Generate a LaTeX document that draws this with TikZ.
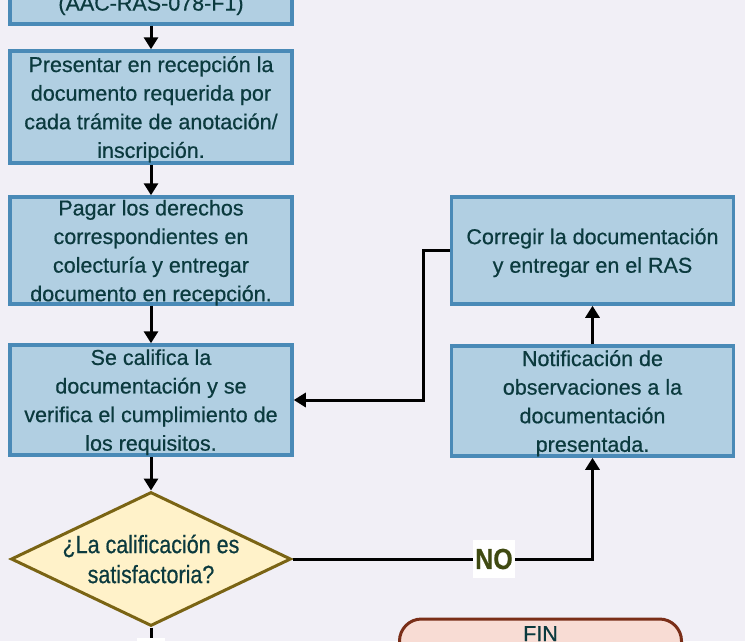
\documentclass[tikz,border=0pt]{standalone}
\usepackage{fontspec}
\setmainfont{Liberation Sans}
\newfontfamily\boxfont[FakeBold=0.6]{Liberation Sans}
\newfontfamily\decfont[FakeStretch=0.86,FakeBold=0.5]{Liberation Sans}
\usetikzlibrary{shapes.geometric,arrows.meta}
\definecolor{bgc}{HTML}{F1EFF6}
\definecolor{boxfill}{HTML}{B1CFE2}
\definecolor{boxline}{HTML}{4A8AB7}
\definecolor{txt}{HTML}{0B3A3E}
\definecolor{decfill}{HTML}{FFF2C9}
\definecolor{decline}{HTML}{7A6414}
\definecolor{finfill}{HTML}{F8DCD4}
\definecolor{finline}{HTML}{7A2E18}
\definecolor{nocol}{HTML}{3F4A12}
\tikzset{
  boxtext/.style={text=txt, font=\boxfont\fontsize{21.5}{28.6}\selectfont},
  procbox/.style={draw=boxline, fill=boxfill, line width=3.5pt, minimum width=282pt,
    align=center, boxtext, inner sep=0pt, text depth=0pt},
  decbox/.style={diamond, draw=decline, fill=decfill, line width=3pt, minimum width=280pt,
    minimum height=134pt, inner sep=0pt, aspect=2.08, align=center, text=txt,
    font=\decfont\fontsize{25}{30}\selectfont},
  finbox/.style={rounded corners=22pt, draw=finline, fill=finfill, line width=3pt,
    minimum width=282pt, minimum height=90pt, inner sep=0pt},
  conn/.style={line width=3pt, black, -{Triangle[length=12pt,width=14pt]}},
  plain/.style={line width=3pt, black},
  lbl/.style={fill=white, text=nocol, font=\decfont\bfseries\fontsize{29}{30}\selectfont, inner sep=2pt, minimum height=38pt}
}
\begin{document}
\begin{tikzpicture}[x=1pt,y=-1pt]
\useasboundingbox[fill=bgc] (0,0) rectangle (745,641);
% top cropped box
\node[procbox, minimum height=112pt] (b1) at (151,-32) {};
\node[boxtext, inner sep=0pt] (b1t) at (151,5) {(AAC-RAS-078-F1)};
\node[procbox, minimum height=112pt] (b2) at (151,107) {Presentar en recepción la\\documento requerida por\\cada trámite de anotación/\\inscripción.};
\node[procbox, minimum height=107pt] (b3) at (151,250.5) {Pagar los derechos\\correspondientes en\\colecturía y entregar\\documento en recepción.};
\node[procbox, minimum height=110pt] (b4) at (151,400) {Se califica la\\documentación y se\\verifica el cumplimiento de\\los requisitos.};
\node[decbox] (d) at (151,559) {¿La calificación es\\satisfactoria?};
\node[procbox, minimum height=107pt] (c) at (592.5,250.5) {Corregir la documentación\\y entregar en el RAS};
\node[procbox, minimum height=110pt] (n) at (592.5,401) {Notificación de\\observaciones a la\\documentación\\presentada.};
\node[finbox] (fin) at (540.5,664) {};
\node[boxtext, inner sep=0pt, anchor=north] (fint) at (540.5,626) {FIN};
% connectors
\draw[conn] (b1.south) -- (b2.north);
\draw[conn] (b2.south) -- (b3.north);
\draw[conn] (b3.south) -- (b4.north);
\draw[conn] (b4.south) -- (d.north);
\coordinate (k1) at (423,250.5);
\coordinate (k2) at (423,400);
\draw[conn] (c.west) -- (k1) -- (k2) -- (b4.east);
\coordinate (k3) at (592.5,559);
\draw[conn] (d.east) -- (k3) -- (n.south);
\node[lbl] (no) at (494,559) {NO};
\draw[conn] (n.north) -- (c.south);
\coordinate (sb) at (151,700);
\draw[plain] (d.south) -- (sb);
\node[lbl] (si) at (151,657) {SÍ};
\end{tikzpicture}
\end{document}
